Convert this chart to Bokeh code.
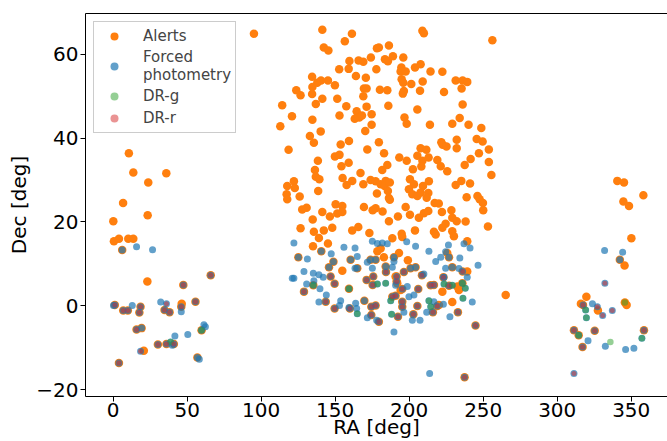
from bokeh.plotting import figure
from bokeh.models import Legend, LegendItem, LinearAxis, FixedTicker
from bokeh.embed import file_html
from bokeh.resources import INLINE

# ---- sky positions (RA, Dec in degrees) ----
# alerts only
alert_only_ra = [95.1, 10.6, 13.6, 35.9, 23.7, 6.7, 0.1, 23.3, 0.5, 3.9, 10.2, 13.6, 23.1, 20.7, 46.3,
    340.6, 345.1, 358.2, 344.7, 348.5, 350.1, 345.5, 319.7, 316.0, 346.9, 327.5,
    141.3, 161.3, 156.5, 142.3, 145.4, 178.2, 179.5, 186.3, 159.6, 165.8, 169.0, 174.1, 183.6, 152.7,
    159.1, 177.8, 164.0, 170.7, 134.4, 137.9, 140.4, 145.1, 149.8, 134.6, 123.7, 126.6, 169.4, 171.2,
    180.2, 185.2, 134.4, 141.3, 151.4, 169.0, 136.9, 114.2, 157.5, 171.2, 185.9, 120.8, 134.6, 152.9,
    164.5, 166.3, 168.1, 174.6, 163.2, 112.9, 174.6,
    208.9, 209.9, 256.2, 185.6, 189.0, 196.0, 194.7, 194.2, 197.6, 203.9, 207.7, 214.4, 222.4, 194.9,
    196.0, 201.4, 209.1, 231.4, 236.1, 239.2, 235.4, 196.4, 195.7, 207.3, 223.5, 205.5, 236.1, 196.8,
    198.3, 214.0, 229.1, 234.1, 240.1, 248.7,
    132.9, 140.2, 135.6, 118.5, 153.7, 159.3, 170.3, 171.7, 179.5, 183.0, 149.8, 152.9, 138.3, 154.2,
    159.1, 136.3, 136.9, 139.3, 167.1, 181.8, 185.2, 155.0, 157.7, 161.5, 169.0, 173.9, 177.3, 180.7,
    184.1, 117.6, 122.1, 122.7, 138.5, 117.2, 117.6, 126.0, 178.2, 186.3, 150.3, 154.8, 154.8, 151.4,
    169.4, 127.7, 130.7, 141.3, 146.4, 175.3, 177.3, 182.0, 134.8, 186.3, 126.6, 135.6, 142.3, 148.0,
    161.5, 165.6, 173.1,
    221.7, 222.6, 225.2, 232.1, 232.1, 245.6, 249.6, 253.8, 247.1, 207.7, 211.6, 205.5, 208.9, 213.1,
    193.3, 198.3, 202.5, 208.2, 219.0, 221.3, 225.7, 241.5, 237.5, 253.8, 255.5, 183.4, 186.9, 185.6,
    186.9, 200.5, 203.2, 199.8, 202.1, 205.5, 209.3, 213.3, 212.9, 207.7, 211.8, 231.4, 235.2, 241.1,
    238.8, 246.1, 247.6, 249.8, 250.0, 197.6, 192.4, 200.5, 217.2, 220.0, 222.1, 209.9, 212.9, 206.5,
    228.5, 229.1, 232.1, 238.1, 224.6, 222.4, 229.1, 216.7, 203.9, 194.9, 253.2,
    139.0, 135.0, 145.1, 188.6, 195.3, 217.9, 230.2, 239.2, 178.5, 182.9, 180.7, 193.1, 199.1, 154.8,
    225.7, 239.2, 190.8, 191.9, 232.5, 233.6, 222.4, 220.1, 229.1, 265.2, 194.2]
alert_only_dec = [64.9, 36.4, 31.8, 31.6, 29.4, 24.5, 20.2, 21.6, 15.4, 16.0, 16.0, 16.0, 5.8, -10.7, 0.5,
    29.8, 29.4, 26.4, 24.9, 23.8, 16.1, 9.6, 2.2, 0.5, 0.2, -1.1,
    65.8, 64.9, 63.1, 61.6, 60.9, 61.4, 61.6, 62.1, 58.4, 58.5, 58.2, 59.2, 58.8, 56.4,
    56.5, 56.4, 54.8, 54.4, 54.6, 53.2, 53.7, 53.7, 52.6, 52.2, 51.4, 50.2, 51.8, 51.8,
    51.5, 51.4, 50.5, 49.4, 49.4, 50.0, 48.1, 47.8, 47.6, 47.5, 47.7, 45.2, 44.4, 45.4,
    46.4, 44.9, 45.4, 45.7, 44.6, 42.8, 43.2,
    65.6, 65.0, 63.3, 58.3, 59.5, 59.2, 56.8, 55.9, 55.9, 56.8, 57.6, 55.9, 55.8, 54.0,
    53.2, 52.9, 53.5, 53.7, 53.7, 53.4, 51.8, 51.2, 50.6, 51.3, 51.0, 46.8, 48.0, 44.9,
    43.4, 43.2, 43.4, 44.8, 43.2, 42.4,
    40.5, 41.6, 38.9, 37.2, 38.5, 39.3, 41.7, 37.3, 39.0, 36.4, 35.6, 36.0, 34.6, 33.3,
    34.1, 32.4, 30.8, 30.2, 31.7, 32.4, 33.6, 30.5, 28.8, 29.8, 29.0, 30.0, 29.7, 29.0,
    29.8, 28.6, 29.7, 28.1, 27.4, 26.6, 25.4, 26.1, 26.8, 25.7, 24.2, 23.8, 22.4, 22.0,
    23.6, 23.0, 23.4, 22.4, 21.3, 22.8, 23.3, 22.5, 20.6, 20.2, 18.5, 17.7, 18.0, 18.6,
    18.0, 18.8, 17.4,
    39.0, 38.4, 38.0, 39.6, 37.6, 39.8, 39.2, 37.3, 36.4, 37.6, 37.2, 35.8, 34.6, 35.4,
    35.4, 34.6, 32.6, 33.2, 34.8, 33.3, 32.1, 35.0, 33.6, 34.3, 31.2, 28.6, 29.4, 27.4,
    25.3, 30.2, 29.0, 27.8, 26.6, 26.2, 28.6, 29.7, 26.9, 27.0, 25.8, 28.8, 29.8, 29.2,
    25.9, 26.2, 25.4, 24.5, 22.8, 23.6, 21.3, 21.7, 24.5, 24.4, 22.4, 22.1, 22.6, 21.0,
    22.8, 21.0, 20.2, 20.1, 19.6, 18.6, 17.8, 17.7, 18.0, 17.2, 18.9,
    16.2, 14.2, 14.9, 16.1, 16.4, 17.0, 16.6, 15.4, 13.0, 11.6, 13.7, 12.6, 10.9, 8.4,
    12.6, 8.2, 7.0, 5.4, 4.6, 3.8, 3.4, 0.2, 0.9, 2.6, 3.8]

# forced photometry only
forced_only_ra = [15.8, 26.6, 0.2, 12.9, 32.1, 41.7, 50.4, 61.3, 62.3, 39.9, 46.0, 58.2,
    332.0, 344.2, 323.8, 320.8, 332.5, 346.2, 351.8,
    122.1, 131.2, 155.9, 163.4, 147.3, 164.9, 163.4, 128.9, 121.0, 122.1, 135.2, 139.0, 141.9, 135.6,
    130.7, 139.7, 144.0, 139.0, 153.7, 152.9, 163.8, 159.3, 164.5, 175.1, 171.7, 175.1, 178.5, 181.8,
    185.2, 198.3, 204.3, 213.3, 188.6, 189.7, 190.8, 198.7, 199.8, 209.9, 217.9, 221.3, 224.6, 226.5,
    224.6, 234.2, 233.6, 237.0, 241.1, 246.5, 239.2, 242.6, 227.5, 189.7, 171.7, 178.0, 196.4, 202.1,
    207.3, 216.7, 211.8, 203.2, 223.5, 223.1, 213.8]
forced_only_dec = [14.1, 13.4, 0.1, 0.1, 0.9, -7.2, -6.8, -4.5, -5.0, -9.4, -1.4, -12.7,
    13.2, 12.8, 0.5, -8.3, -9.6, -10.4, -10.1,
    15.0, 11.2, 14.0, 13.8, 12.4, 11.8, 9.0, 8.2, 6.6, 6.6, 7.8, 7.4, 6.8, 6.0,
    5.2, 4.1, 2.6, 0.9, 1.2, 0.1, 0.6, -0.4, -0.6, 9.0, 10.4, 15.4, 14.9, 15.0,
    14.8, 15.3, 14.2, 13.0, 9.2, 10.6, 4.9, 4.6, 2.2, 7.6, 10.6, 11.6, 9.0, 14.5,
    12.9, 11.4, 8.9, 14.8, 13.8, 9.7, 6.8, 0.9, -2.6, -6.2, -2.8, -3.4, -1.5, -3.4,
    -3.4, 1.0, -1.5, 2.6, 6.8, 0.4, -16.1]

# seen as alert and in forced photometry
alert_forced_ra = [6.1, 19.2, 56.9, 342.3, 125.1, 140.6, 148.8, 145.8, 160.4, 164.9, 173.9, 177.3,
    189.7, 200.9, 204.3, 226.9, 229.1, 169.7, 184.1]
alert_forced_dec = [13.3, -5.3, -12.3, 11.0, 11.6, 13.0, 10.5, 9.2, 11.0, 9.0, 11.0, 11.0,
    11.6, 9.0, 9.2, 11.6, 9.2, 1.2, 9.4]

# alert + forced photometry + DR-r
alert_forced_r_ra = [1.1, 6.8, 9.9, 18.5, 17.7, 15.8, 47.4, 65.9, 55.6, 34.7, 38.1, 30.2, 36.0, 41.0,
    3.9, 46.0, 317.4, 317.1, 325.3, 358.6, 311.3,
    146.9, 149.6, 128.9, 143.6, 149.6, 159.9, 171.2, 175.7, 175.3, 174.4, 177.3, 174.4, 179.5, 184.3,
    191.5, 196.4, 191.5, 195.3, 188.6, 190.8, 195.3, 195.3, 192.4, 202.8, 205.5, 206.1, 208.6, 214.5,
    216.7, 219.0, 216.0, 223.1, 226.9, 232.9, 244.8, 236.1, 237.4]
alert_forced_r_dec = [0.2, -1.1, -1.1, -0.2, -1.6, -5.6, 5.0, 7.3, 1.0, -1.0, -1.5, -9.2, -9.1, -9.1,
    -13.6, -0.2, 0.2, -9.8, -5.9, -5.8, -5.8,
    7.0, 5.3, 3.4, 1.0, -0.6, -0.6, 6.2, 7.0, 5.0, -0.2, 0.1, -2.2, -3.8, 8.1,
    7.0, 8.1, 5.8, 4.0, 2.2, 2.4, 1.0, -0.2, -2.6, -2.0, 0.0, 4.0, 7.3, 4.9,
    5.0, 0.0, -1.5, 6.8, 4.8, -1.5, -4.7, 8.2, -17.0]

# forced photometry + DR-r
forced_r_ra = [36.0, 18.5, 332.2, 327.1, 330.7, 337.2, 311.3]
forced_r_dec = [0.5, -10.8, 5.4, -0.2, -2.3, -1.1, -16.1]

# alert + forced photometry + DR-g
alert_forced_g_ra = [135.2, 159.3, 235.9, 314.5, 59.7]
alert_forced_g_dec = [4.9, 4.1, 5.4, -7.0, -5.8]

# forced photometry + DR-g
forced_g_ra = [38.8, 178.5, 184.1, 164.9, 187.5, 188.1, 213.3, 214.5, 236.3, 237.9, 229.1, 223.5,
    319.2, 319.7, 357.2]
forced_g_dec = [-8.6, 5.2, 5.4, -1.9, 1.2, -2.0, 1.2, -0.2, 1.8, 4.2, 4.9, 5.2,
    -1.0, -2.8, -7.7]

# alert + DR-g, and DR-g alone
alert_g_ra = [345.7]
alert_g_dec = [0.8]
g_only_ra = [335.9]
g_only_dec = [-8.6]

alerts_ra = alert_only_ra + alert_forced_ra + alert_forced_r_ra + alert_forced_g_ra + alert_g_ra
alerts_dec = alert_only_dec + alert_forced_dec + alert_forced_r_dec + alert_forced_g_dec + alert_g_dec
forced_ra = forced_only_ra + alert_forced_ra + alert_forced_r_ra + forced_r_ra + alert_forced_g_ra + forced_g_ra
forced_dec = forced_only_dec + alert_forced_dec + alert_forced_r_dec + forced_r_dec + alert_forced_g_dec + forced_g_dec
drg_ra = alert_forced_g_ra + forced_g_ra + alert_g_ra + g_only_ra
drg_dec = alert_forced_g_dec + forced_g_dec + alert_g_dec + g_only_dec
drr_ra = alert_forced_r_ra + forced_r_ra
drr_dec = alert_forced_r_dec + forced_r_dec

x_ticks = [0, 50, 100, 150, 200, 250, 300, 350]
y_ticks = [-20, 0, 20, 40, 60]

FONT = "DejaVu Sans"
X0, X1 = -18.7, 374.5
Y0, Y1 = -21.6, 69.7

p = figure(width=667, height=441, x_range=(X0, X1), y_range=(Y0, Y1),
           output_backend="svg", toolbar_location=None,
           min_border_left=85, min_border_right=0, min_border_top=13, min_border_bottom=45)
p.outline_line_color = None
p.grid.visible = False
p.background_fill_color = "white"

r_alerts = p.scatter(alerts_ra, alerts_dec, size=8.5, color="#ff7f0e", line_width=0)
r_forced = p.scatter(forced_ra, forced_dec, size=7, color="#1f77b4", alpha=0.7, line_width=0)
r_drg = p.scatter(drg_ra, drg_dec, size=6.5, color="#2ca02c", alpha=0.5, line_width=0)
r_drr = p.scatter(drr_ra, drr_dec, size=5, color="#d62728", alpha=0.5, line_width=0)

for ax, ticks in ((p.xaxis[0], x_ticks), (p.yaxis[0], y_ticks)):
    ax.ticker = FixedTicker(ticks=ticks)
    ax.minor_tick_line_color = None
    ax.major_tick_in = 0
    ax.major_tick_out = 5
    ax.major_tick_line_color = "black"
    ax.axis_line_color = "black"
    ax.major_label_text_font = FONT
    ax.major_label_text_font_size = "20px"
    ax.major_label_text_color = "black"
    ax.axis_label_text_font = FONT
    ax.axis_label_text_font_size = "20px"
    ax.axis_label_text_font_style = "normal"
    ax.axis_label_text_color = "black"

p.yaxis.axis_label = "Dec [deg]"
p.yaxis.major_label_standoff = 2
p.yaxis.axis_label_standoff = 2

# keep the x-axis compact so the frame keeps its height
p.xaxis.axis_label = "RA [deg]"
p.xaxis.major_label_standoff = 1
p.xaxis.axis_label_standoff = -5

# top spine
top = LinearAxis(ticker=FixedTicker(ticks=[]), axis_line_color="black",
                 major_tick_line_color=None, minor_tick_line_color=None)
p.add_layout(top, "above")

legend = Legend(items=[
    LegendItem(label="Alerts", renderers=[r_alerts]),
    LegendItem(label="Forced\nphotometry", renderers=[r_forced]),
    LegendItem(label="DR-g", renderers=[r_drg]),
    LegendItem(label="DR-r", renderers=[r_drr]),
], location="top_left")
legend.label_text_font = FONT
legend.label_text_font_size = "15px"
legend.border_line_color = "#cccccc"
legend.border_line_alpha = 1
legend.background_fill_alpha = 0.8
legend.margin = 8
legend.padding = 4
legend.spacing = 2
legend.glyph_width = 32
legend.label_standoff = 13
p.add_layout(legend)

open("out.html", "w").write(file_html(p, INLINE))
